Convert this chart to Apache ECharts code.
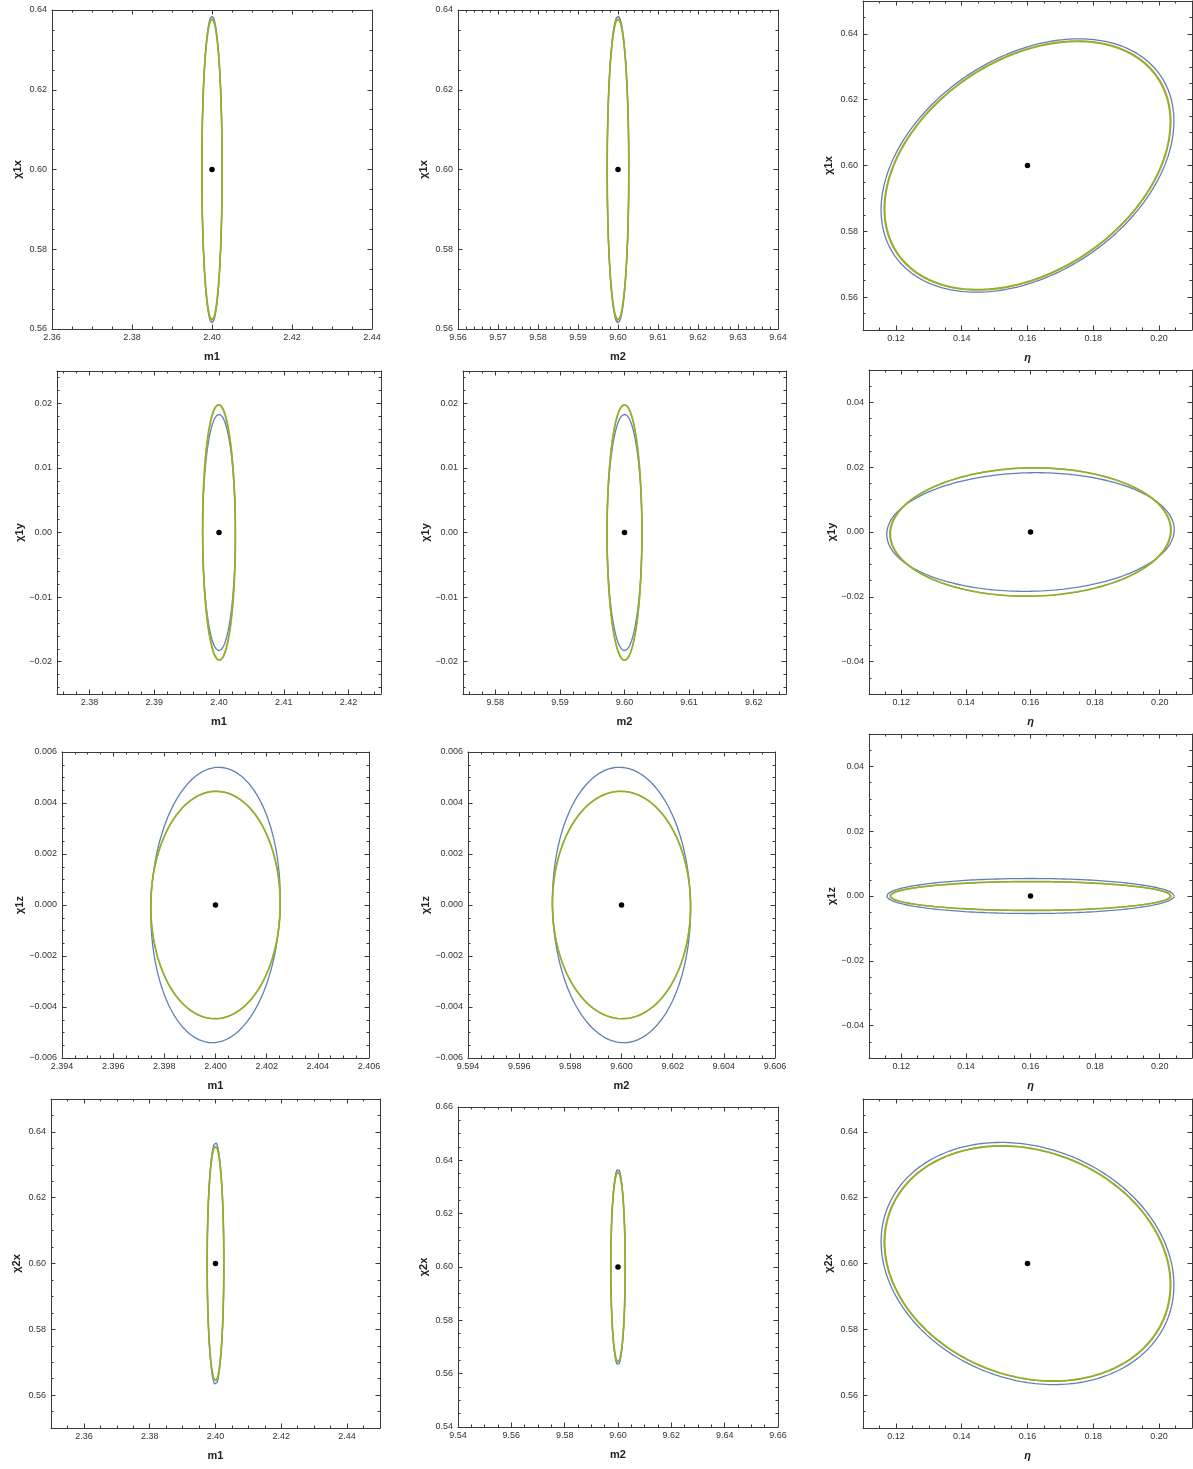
<!DOCTYPE html>
<html>
<head>
<meta charset="utf-8">
<script src="https://cdn.jsdelivr.net/npm/echarts@6/dist/echarts.min.js"></script>
<style>
html,body{margin:0;padding:0;background:#fff;}
#chart{width:1193px;height:1469px;}
</style>
</head>
<body>
<div id="chart"></div>
<script>
// ---------------- DATA ----------------
// Parameter centres (fiducial values, black dots)
const centerM1 = 2.40;
const centerM2 = 9.60;
const centerEta = 0.16;
const centerChi1x = 0.60;
const centerChi1y = 0.0;
const centerChi1z = 0.0;
const centerChi2x = 0.60;

// Half extents of each contour along each parameter [blue, orange, green]
const halfM1 = [0.00253, 0.00253, 0.00253];
const halfM2 = [0.0027, 0.0027, 0.0027];
const halfEta = [0.0445, 0.0436, 0.0434];
const halfChi1x = [0.0385, 0.0379, 0.0377];
const halfChi1y = [0.0183, 0.0198, 0.0198];
const halfChi1z = [0.0054, 0.00446, 0.00446];
const halfChi2x = [0.0368, 0.0358, 0.0357];

// Panels (row-major), parameter on x and y
const panelX = ['m1','m2','eta','m1','m2','eta','m1','m2','eta','m1','m2','eta'];
const panelY = ['chi1x','chi1x','chi1x','chi1y','chi1y','chi1y','chi1z','chi1z','chi1z','chi2x','chi2x','chi2x'];

// Correlation (tilt) of each contour per panel
const rhoBlue   = [0, 0, 0.35, 0, 0, 0.04, 0.05, -0.03, 0, 0, 0, -0.18];
const rhoOrange = [0, 0, 0.35, 0, 0, 0.03, 0.01, -0.01, 0, 0, 0, -0.18];
const rhoGreen  = [0, 0, 0.35, -0.03, 0, 0.03, 0.01, -0.01, 0, 0, 0, -0.18];

// Axis ranges and tick labels
const xMin = [2.36, 9.56, 0.11, 2.375, 9.575, 0.11, 2.394, 9.594, 0.11, 2.35, 9.54, 0.11];
const xMax = [2.44, 9.64, 0.21, 2.425, 9.625, 0.21, 2.406, 9.606, 0.21, 2.45, 9.66, 0.21];
const xLabelStart = [2.36, 9.56, 0.12, 2.38, 9.58, 0.12, 2.394, 9.594, 0.12, 2.36, 9.54, 0.12];
const xLabelStep = [0.02, 0.01, 0.02, 0.01, 0.01, 0.02, 0.002, 0.002, 0.02, 0.02, 0.02, 0.02];
const xMinorStep = [0.005, 0.002, 0.005, 0.002, 0.002, 0.005, 0.0005, 0.0005, 0.005, 0.005, 0.005, 0.005];
const xDecimals = [2,2,2,2,2,2,3,3,2,2,2,2];

const yMin = [0.56, 0.56, 0.55, -0.025, -0.025, -0.05, -0.006, -0.006, -0.05, 0.55, 0.54, 0.55];
const yMax = [0.64, 0.64, 0.65, 0.025, 0.025, 0.05, 0.006, 0.006, 0.05, 0.65, 0.66, 0.65];
const yLabelStart = [0.56, 0.56, 0.56, -0.02, -0.02, -0.04, -0.006, -0.006, -0.04, 0.56, 0.54, 0.56];
const yLabelStep = [0.02, 0.02, 0.02, 0.01, 0.01, 0.02, 0.002, 0.002, 0.02, 0.02, 0.02, 0.02];
const yMinorStep = [0.005, 0.005, 0.005, 0.002, 0.002, 0.005, 0.0005, 0.0005, 0.005, 0.005, 0.005, 0.005];
const yDecimals = [2,2,2,2,2,2,3,3,2,2,2,2];

const axisTitles = {m1:'m1', m2:'m2', eta:'η', chi1x:'χ1x', chi1y:'χ1y', chi1z:'χ1z', chi2x:'χ2x'};

// ---------------- LAYOUT / STYLE ----------------
const gridBoxes = [
  [52, 10, 320, 319], [458, 10, 320, 319], [863, 1, 329, 329],
  [57, 371, 324, 323], [463, 371, 323, 323], [869, 370, 323, 324],
  [62, 752, 307, 306], [468, 752, 307, 306], [869, 734, 323, 324],
  [51, 1099, 329, 329], [458, 1107, 320, 320], [863, 1099, 329, 329]
];
const colors = ['#5E81B5', '#E19C24', '#8FB032'];
const widths = [1.3, 1.3, 1.7];
const FONT = '"Liberation Sans", Arial, sans-serif';
const FRAME = '#3a3a3a';

const centers = {m1:centerM1, m2:centerM2, eta:centerEta, chi1x:centerChi1x, chi1y:centerChi1y, chi1z:centerChi1z, chi2x:centerChi2x};
const halves = {m1:halfM1, m2:halfM2, eta:halfEta, chi1x:halfChi1x, chi1y:halfChi1y, chi1z:halfChi1z, chi2x:halfChi2x};
const rhos = [rhoBlue, rhoOrange, rhoGreen];

function r6(v){ return Math.round(v*1e7)/1e7; }
function seq(start, end, step){
  const out = [];
  const n = Math.floor((end - start)/step + 1e-6);
  for (let k=0;k<=n;k++) out.push(r6(start + k*step));
  return out;
}
function fmt(d){
  return function(v){
    const s = Math.abs(v).toFixed(d);
    return (v < -1e-12 ? '\u2212' : '') + s;
  };
}

const grids = [], xAxes = [], yAxes = [], series = [];

for (let i=0;i<12;i++){
  const b = gridBoxes[i];
  grids.push({left:b[0], top:b[1], width:b[2], height:b[3], containLabel:false, show:false});
  const xMaj = seq(xLabelStart[i], xMax[i], xLabelStep[i]);
  const xMinV = seq(Math.ceil(xMin[i]/xMinorStep[i]-1e-6)*xMinorStep[i], xMax[i], xMinorStep[i]);
  const yMaj = seq(yLabelStart[i], yMax[i], yLabelStep[i]);
  const yMinV = seq(Math.ceil(yMin[i]/yMinorStep[i]-1e-6)*yMinorStep[i], yMax[i], yMinorStep[i]);
  const xName = axisTitles[panelX[i]];
  const yName = axisTitles[panelY[i]];
  const xNameStyle = {fontFamily: FONT, fontSize: 11, fontWeight:'bold', color:'#222', fontStyle: panelX[i]==='eta' ? 'italic' : 'normal'};
  const yNameStyle = {fontFamily: FONT, fontSize: 11, fontWeight:'bold', color:'#222'};

  // x axes: bottom main, top main, bottom minor, top minor
  [['bottom',true,false],['top',false,false],['bottom',false,true],['top',false,true]].forEach(function(cfg){
    const pos = cfg[0], lab = cfg[1], minor = cfg[2];
    xAxes.push({
      type:'value', gridIndex:i, position:pos, min:xMin[i], max:xMax[i],
      axisLine:{show:!minor, onZero:false, lineStyle:{color:FRAME, width:1}},
      axisTick:{show:true, inside:true, length: minor?2.5:4.5, customValues: minor? xMinV : xMaj, lineStyle:{color:FRAME, width:1}},
      axisLabel:{show:lab, customValues:xMaj, formatter: fmt(xDecimals[i]), margin:4, fontSize:9, color:'#333', fontFamily:FONT},
      splitLine:{show:false}, minorTick:{show:false},
      name: lab ? xName : '', nameLocation:'middle', nameGap:22, nameTextStyle: xNameStyle,
      silent:true
    });
  });
  [['left',true,false],['right',false,false],['left',false,true],['right',false,true]].forEach(function(cfg){
    const pos = cfg[0], lab = cfg[1], minor = cfg[2];
    yAxes.push({
      type:'value', gridIndex:i, position:pos, min:yMin[i], max:yMax[i],
      axisLine:{show:!minor, onZero:false, lineStyle:{color:FRAME, width:1}},
      axisTick:{show:true, inside:true, length: minor?2.5:4.5, customValues: minor? yMinV : yMaj, lineStyle:{color:FRAME, width:1}},
      axisLabel:{show:lab, customValues:yMaj, formatter: fmt(yDecimals[i]), margin:5, fontSize:9, color:'#333', fontFamily:FONT},
      splitLine:{show:false}, minorTick:{show:false},
      name: lab ? yName : '', nameLocation:'middle', nameGap:29, nameTextStyle: yNameStyle,
      silent:true
    });
  });

  const cx = centers[panelX[i]], cy = centers[panelY[i]];
  for (let s=0;s<3;s++){
    const ax = halves[panelX[i]][s], ay = halves[panelY[i]][s], rho = rhos[s][i];
    const q = Math.sqrt(1 - rho*rho);
    const pts = [];
    const N = 240;
    for (let k=0;k<=N;k++){
      const t = 2*Math.PI*k/N;
      pts.push([cx + ax*Math.cos(t), cy + ay*(rho*Math.cos(t) + q*Math.sin(t))]);
    }
    series.push({
      type:'line', xAxisIndex:i*4, yAxisIndex:i*4, data:pts,
      showSymbol:false, symbol:'none', smooth:false, silent:true, z: 2+s,
      lineStyle:{color:colors[s], width:widths[s]}
    });
  }
  series.push({
    type:'scatter', xAxisIndex:i*4, yAxisIndex:i*4, data:[[cx, cy]],
    symbol:'circle', symbolSize:5.5, itemStyle:{color:'#000', opacity:1}, silent:true, z:10
  });
}

const chart = echarts.init(document.getElementById('chart'), null, {renderer:'canvas'});
chart.setOption({
  animation:false,
  backgroundColor:'#ffffff',
  grid: grids, xAxis: xAxes, yAxis: yAxes, series: series
});
</script>
</body>
</html>
